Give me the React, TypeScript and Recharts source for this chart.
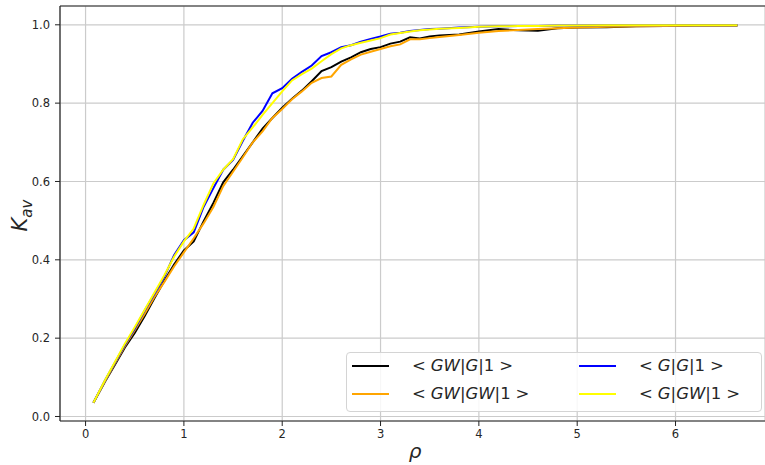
import { LineChart, Line, XAxis, YAxis, CartesianGrid, Legend, ReferenceLine } from 'recharts';

// density values (x axis)
const rho = [
  0.08, 0.2, 0.3, 0.4, 0.5, 0.6, 0.7, 0.8, 0.9, 1.0,
  1.1, 1.2, 1.3, 1.4, 1.5, 1.6, 1.7, 1.8, 1.9, 2.0,
  2.1, 2.2, 2.3, 2.4, 2.5, 2.6, 2.7, 2.8, 2.9, 3.0,
  3.1, 3.2, 3.3, 3.4, 3.5, 3.6, 3.8, 4.0, 4.2, 4.4,
  4.6, 4.8, 5.0, 5.3, 5.6, 5.9, 6.2, 6.4, 6.63,
];

// <GW|G|1>
const gwG = [
  0.035, 0.090, 0.133, 0.176, 0.213, 0.256, 0.302, 0.346, 0.388, 0.424,
  0.447, 0.498, 0.545, 0.598, 0.630, 0.665, 0.700, 0.735, 0.762, 0.788,
  0.811, 0.832, 0.856, 0.882, 0.892, 0.906, 0.917, 0.930, 0.938, 0.943,
  0.952, 0.957, 0.968, 0.965, 0.970, 0.973, 0.975, 0.983, 0.989, 0.986,
  0.985, 0.991, 0.993, 0.994, 0.996, 0.997, 0.998, 0.998, 0.998,
];

// <GW|GW|1>
const gwGW = [
  0.035, 0.091, 0.136, 0.180, 0.220, 0.262, 0.305, 0.343, 0.383, 0.419,
  0.455, 0.493, 0.535, 0.588, 0.625, 0.662, 0.700, 0.728, 0.762, 0.785,
  0.810, 0.830, 0.852, 0.864, 0.868, 0.898, 0.912, 0.924, 0.931, 0.938,
  0.945, 0.950, 0.963, 0.963, 0.966, 0.969, 0.974, 0.980, 0.984, 0.987,
  0.989, 0.991, 0.993, 0.995, 0.996, 0.997, 0.998, 0.998, 0.998,
];

// <G|G|1>
const gG = [
  0.035, 0.093, 0.138, 0.183, 0.224, 0.270, 0.313, 0.356, 0.412, 0.450,
  0.470, 0.535, 0.583, 0.630, 0.655, 0.704, 0.750, 0.780, 0.825, 0.838,
  0.862, 0.880, 0.896, 0.920, 0.930, 0.943, 0.948, 0.957, 0.964, 0.970,
  0.977, 0.980, 0.984, 0.987, 0.989, 0.990, 0.993, 0.995, 0.996, 0.997,
  0.997, 0.998, 0.998, 0.999, 0.999, 0.999, 0.999, 0.999, 0.999,
];

// <G|GW|1>
const gGW = [
  0.035, 0.094, 0.140, 0.186, 0.228, 0.272, 0.316, 0.360, 0.408, 0.447,
  0.480, 0.540, 0.595, 0.630, 0.657, 0.708, 0.738, 0.770, 0.800, 0.830,
  0.858, 0.874, 0.888, 0.907, 0.925, 0.940, 0.948, 0.954, 0.960, 0.966,
  0.975, 0.979, 0.983, 0.986, 0.988, 0.990, 0.992, 0.995, 0.996, 0.997,
  0.997, 0.998, 0.998, 0.999, 0.999, 0.999, 0.999, 0.999, 0.999,
];

const seriesNames = ['<GW|G|1>', '<GW|GW|1>', '<G|G|1>', '<G|GW|1>'];
const xTicks = [0, 1, 2, 3, 4, 5, 6];
const yTicks = [0, 0.2, 0.4, 0.6, 0.8, 1.0];

const data = rho.map((r, i) => ({
  rho: r,
  gwG: gwG[i],
  gwGW: gwGW[i],
  gG: gG[i],
  gGW: gGW[i],
}));

const FONT = '"DejaVu Sans", sans-serif';
const tickStyle = { fontSize: 11.5, fill: '#262626', fontFamily: FONT };
const yDomain = [-0.0115, 1.048];

// mathtext-ish label: letters italic, relations padded
const mathLabel = (s: string) =>
  s.split('').map((ch, i) => {
    if (/[A-Z]/.test(ch)) return <span key={i} style={{ fontStyle: 'italic' }}>{ch}</span>;
    if (ch === '<') return <span key={i} style={{ marginRight: '0.3em' }}>{ch}</span>;
    if (ch === '>') return <span key={i} style={{ marginLeft: '0.3em' }}>{ch}</span>;
    return <span key={i}>{ch}</span>;
  });

const renderLegend = (props: any) => {
  const payload = [...(props.payload || [])].sort(
    (a: any, b: any) => seriesNames.indexOf(a.value) - seriesNames.indexOf(b.value)
  );
  return (
    <div
      style={{
        position: 'relative',
        width: 416,
        height: 60,
        border: '1px solid #d4d4d4',
        borderRadius: 4,
        background: 'rgba(255,255,255,0.85)',
        boxSizing: 'border-box',
        fontFamily: FONT,
        fontSize: 16.5,
        color: '#262626',
      }}
    >
      {payload.map((entry: any, i: number) => {
        const col = Math.floor(i / 2);
        const row = i % 2;
        const left = col === 0 ? 5 : 232;
        const top = row === 0 ? 13 : 41;
        return (
          <div key={entry.value} style={{ position: 'absolute', left, top: top - 10, height: 20, display: 'flex', alignItems: 'center' }}>
            <div style={{ width: 37, height: 2, background: entry.color }} />
            <div style={{ marginLeft: 23, whiteSpace: 'nowrap', lineHeight: '20px' }}>{mathLabel(entry.value)}</div>
          </div>
        );
      })}
    </div>
  );
};

export default function App() {
  return (
    <div style={{ position: 'absolute', left: 0, top: 0, width: 765, height: 465, background: '#fff' }}>
      <LineChart width={765} height={465} data={data} margin={{ top: 6, right: 0, bottom: 0, left: 0 }}>
        <CartesianGrid stroke="#cbcbcb" strokeWidth={1.2} />
        <XAxis
          dataKey="rho"
          type="number"
          domain={[-0.26, 6.91]}
          ticks={xTicks}
          interval={0}
          allowDataOverflow
          height={44}
          tickSize={5}
          tickMargin={4}
          tick={tickStyle}
          stroke="#222"
          axisLine={{ stroke: '#222', strokeWidth: 1.2 }}
          tickLine={{ stroke: '#222' }}
          label={{
            content: ({ viewBox }: any) => (
              <text
                x={viewBox.x + viewBox.width / 2 + 2.5}
                y={viewBox.y + 37}
                textAnchor="middle"
                fontFamily={FONT}
                fontStyle="italic"
                fontSize={20}
                fill="#262626"
              >
                ρ
              </text>
            ),
          }}
        />
        <YAxis
          type="number"
          domain={yDomain}
          ticks={yTicks}
          interval={0}
          allowDataOverflow
          width={60}
          tickSize={5}
          tickMargin={5}
          tick={tickStyle}
          tickFormatter={(v: number) => v.toFixed(1)}
          axisLine={{ stroke: '#222', strokeWidth: 1.2 }}
          tickLine={{ stroke: '#222' }}
          label={{
            content: ({ viewBox }: any) => {
              const cx = 27;
              const cy = viewBox.y + viewBox.height / 2 + 2;
              return (
                <text
                  x={cx}
                  y={cy}
                  transform={`rotate(-90, ${cx}, ${cy})`}
                  textAnchor="middle"
                  fontFamily={FONT}
                  fontStyle="italic"
                  fontSize={21}
                  fill="#262626"
                >
                  K
                  <tspan fontSize={15} dy={5}>av</tspan>
                </text>
              );
            },
          }}
        />
        <ReferenceLine y={yDomain[1]} stroke="#222" strokeWidth={1.2} />
        <Line type="linear" dataKey="gwG" name={seriesNames[0]} stroke="#000000" strokeWidth={2} dot={false} isAnimationActive={false} />
        <Line type="linear" dataKey="gwGW" name={seriesNames[1]} stroke="#FFA500" strokeWidth={2} dot={false} isAnimationActive={false} />
        <Line type="linear" dataKey="gG" name={seriesNames[2]} stroke="#0000FF" strokeWidth={2} dot={false} isAnimationActive={false} />
        <Line type="linear" dataKey="gGW" name={seriesNames[3]} stroke="#FFFF00" strokeWidth={2} dot={false} isAnimationActive={false} />
        <Legend
          layout="horizontal"
          align="center"
          verticalAlign="middle"
          content={renderLegend}
          wrapperStyle={{ left: 346, top: 352, right: 'auto', bottom: 'auto', width: 416, height: 60 }}
        />
      </LineChart>
    </div>
  );
}
